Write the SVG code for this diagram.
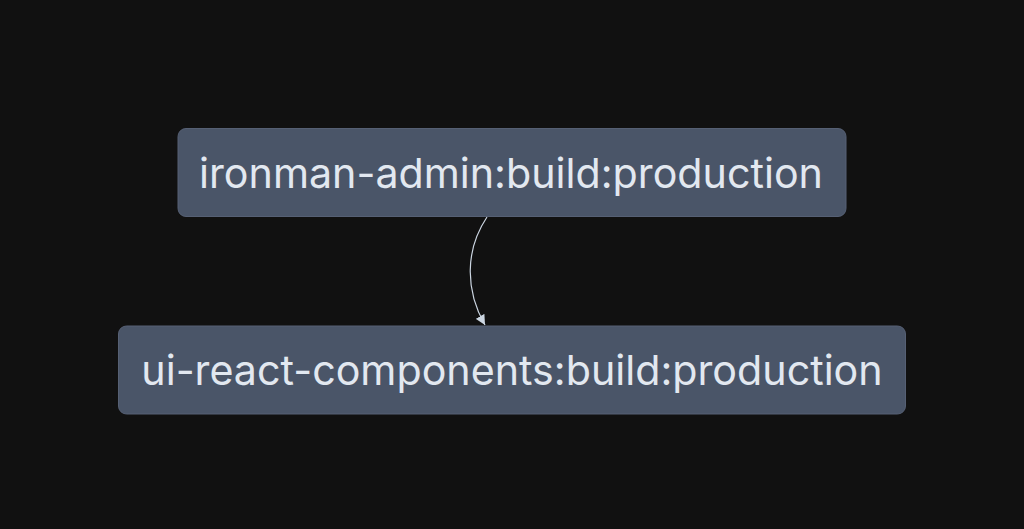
<svg xmlns="http://www.w3.org/2000/svg" width="1024" height="529" viewBox="0 0 1024 529">
<style>
.node rect{fill:#4a5568;stroke:#566074;stroke-width:1}
.node text{fill:#e2e8f0;font-family:Inter,"Liberation Sans",sans-serif;font-size:41.2px;text-anchor:middle;dominant-baseline:central}
.edge{fill:none;stroke:#cbd5e1;stroke-width:1.2}
</style>
<defs>
<marker id="arr" viewBox="0 0 10 10" refX="10" refY="5" markerWidth="10" markerHeight="10" markerUnits="userSpaceOnUse" orient="auto">
<path d="M0,0 L10,5 L0,10 z" fill="#cbd5e1"/>
</marker>
</defs>
<rect width="1024" height="529" fill="#111111"/>
<g id="edges">
<path class="edge" d="M487,217 C465,250 465,290 485,325" marker-end="url(#arr)"/>
</g>
<g id="node-ironman" class="node">
<rect x="178" y="128.5" width="668" height="88" rx="8"/>
<text x="511" y="172.5">ironman-admin:build:production</text>
</g>
<g id="node-ui" class="node">
<rect x="118.5" y="326" width="787" height="88" rx="8"/>
<text x="512" y="370">ui-react-components:build:production</text>
</g>
</svg>
